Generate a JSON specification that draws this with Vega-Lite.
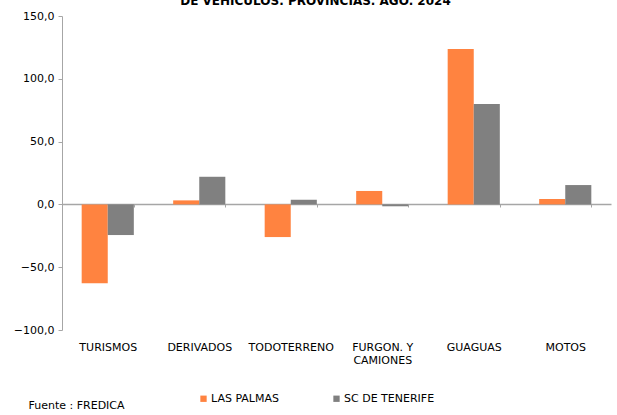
{
  "$schema": "https://vega.github.io/schema/vega-lite/v6.json",
  "autosize": {"type": "none"},
  "width": 549,
  "height": 314,
  "padding": {"left": 62, "top": 16, "right": 6, "bottom": 85},
  "background": "white",
  "title": {
    "text": ["VARIACIÓN INTERANUAL DE LA MATRICULACIÓN", "DE VEHÍCULOS. PROVINCIAS. AGO. 2024"],
    "font": "DejaVu Sans",
    "fontSize": 12,
    "fontWeight": "bold",
    "color": "black",
    "anchor": "middle",
    "frame": "group",
    "dx": -21,
    "offset": 2,
    "lineHeight": 15
  },
  "data": {
    "values": [
      {"cat": "TURISMOS", "prov": "LAS PALMAS", "v": -62.8},
      {"cat": "TURISMOS", "prov": "SC DE TENERIFE", "v": -24.4},
      {"cat": "DERIVADOS", "prov": "LAS PALMAS", "v": 3.2},
      {"cat": "DERIVADOS", "prov": "SC DE TENERIFE", "v": 22.0},
      {"cat": "TODOTERRENO", "prov": "LAS PALMAS", "v": -26.0},
      {"cat": "TODOTERRENO", "prov": "SC DE TENERIFE", "v": 3.7},
      {"cat": "FURGON. Y CAMIONES", "prov": "LAS PALMAS", "v": 10.7},
      {"cat": "FURGON. Y CAMIONES", "prov": "SC DE TENERIFE", "v": -1.5},
      {"cat": "GUAGUAS", "prov": "LAS PALMAS", "v": 123.7},
      {"cat": "GUAGUAS", "prov": "SC DE TENERIFE", "v": 79.9},
      {"cat": "MOTOS", "prov": "LAS PALMAS", "v": 4.3},
      {"cat": "MOTOS", "prov": "SC DE TENERIFE", "v": 15.4}
    ]
  },
  "mark": {"type": "bar"},
  "encoding": {
    "x": {
      "field": "cat",
      "type": "nominal",
      "sort": null,
      "scale": {"paddingInner": 0.43, "paddingOuter": 0.215},
      "axis": {
        "title": "Fuente : FREDICA",
        "titleFont": "DejaVu Sans",
        "titleFontSize": 11,
        "titleFontWeight": "normal",
        "titleColor": "black",
        "titleAnchor": "start",
        "titleAlign": "left",
        "titleBaseline": "middle",
        "titleX": -34,
        "titleY": 201,
        "offset": -126,
        "labelAngle": 0,
        "labelPadding": 134,
        "labelFont": "DejaVu Sans",
        "labelFontSize": 11,
        "labelColor": "black",
        "labelBaseline": "top",
        "labelLineHeight": 13,
        "labelExpr": "datum.value == 'FURGON. Y CAMIONES' ? ['FURGON. Y', 'CAMIONES'] : datum.value",
        "domainColor": "#A6A6A6",
        "domainWidth": 1.5,
        "tickBand": "extent",
        "tickColor": "#A6A6A6",
        "tickSize": 3,
        "grid": false
      }
    },
    "xOffset": {"field": "prov", "type": "nominal", "scale": {"paddingInner": 0, "paddingOuter": 0}},
    "y": {
      "field": "v",
      "type": "quantitative",
      "scale": {"domain": [-100, 150], "nice": false, "zero": false},
      "axis": {
        "title": null,
        "values": [-100, -50, 0, 50, 100, 150],
        "labelExpr": "replace(format(datum.value, '.1f'), '.', ',')",
        "labelFont": "DejaVu Sans",
        "labelFontSize": 11,
        "labelColor": "black",
        "labelPadding": 4,
        "domainColor": "#A6A6A6",
        "domainWidth": 1,
        "tickColor": "#A6A6A6",
        "tickSize": 4,
        "grid": false
      }
    },
    "color": {
      "field": "prov",
      "type": "nominal",
      "scale": {"domain": ["LAS PALMAS", "SC DE TENERIFE"], "range": ["#FF8340", "#808080"]},
      "legend": {
        "title": null,
        "orient": "none",
        "direction": "horizontal",
        "legendX": 136,
        "legendY": 377,
        "symbolType": "square",
        "symbolSize": 40,
        "symbolStrokeWidth": 0,
        "labelFont": "DejaVu Sans",
        "labelFontSize": 11,
        "labelColor": "black",
        "labelOffset": 2,
        "columnPadding": 52
      }
    }
  },
  "config": {"view": {"stroke": null}}
}
